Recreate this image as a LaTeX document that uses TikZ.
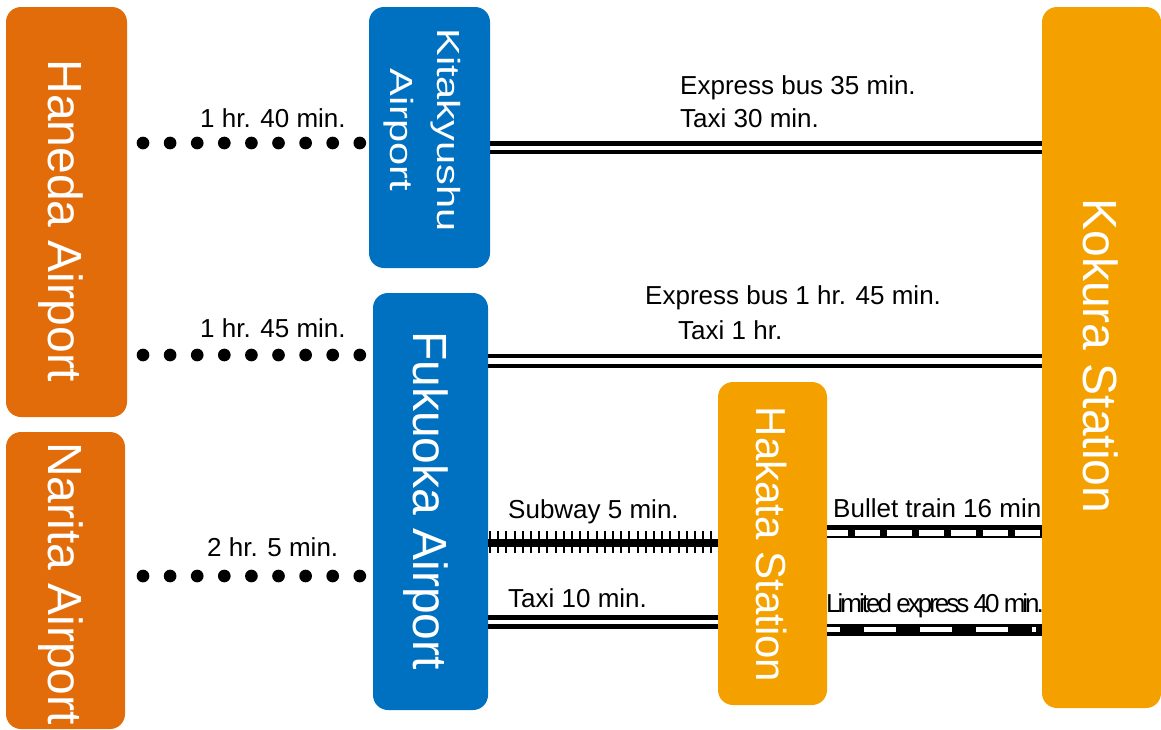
\documentclass[tikz,border=0pt]{standalone}
\usepackage{fontspec}
\usepackage{graphicx}
\setmainfont{Liberation Sans}
\definecolor{airorange}{HTML}{E36C0A}
\definecolor{airblue}{HTML}{0070C0}
\definecolor{stayellow}{HTML}{F4A100}
\begin{document}
\begin{tikzpicture}[x=1pt,y=-1pt,
  box/.style={draw=none, rounded corners=15pt, inner sep=0pt, outer sep=0pt},
  boxtext/.style={text=white, font=\fontsize{48pt}{52pt}\selectfont, rotate=-90, inner sep=0pt},
  lbl/.style={font=\fontsize{26pt}{30pt}\selectfont, inner sep=0pt, anchor=base west},
  dotline/.style={line width=12.7pt, line cap=round, dash pattern=on 0pt off 27.1pt},
  rail/.style={line width=4.5pt},
]
\useasboundingbox (0,0) rectangle (1161,729);

% boxes
\node[box, fill=airorange, minimum width=121pt, minimum height=410pt] (han) at (66.5,212) {};
\node[box, fill=airorange, minimum width=119pt, minimum height=297pt] (nar) at (65.5,580.5) {};
\node[box, fill=airblue, minimum width=121pt, minimum height=261pt] (kita) at (429.5,137.5) {};
\node[box, fill=airblue, minimum width=115pt, minimum height=417pt] (fuku) at (430.5,501.5) {};
\node[box, fill=stayellow, minimum width=109pt, minimum height=323pt] (hak) at (772.5,543.5) {};
\node[box, fill=stayellow, minimum width=119pt, minimum height=701pt] (kok) at (1101.5,357.5) {};

% box texts
\node[boxtext] (hantx) at (61,221) {Haneda Airport};
\node[boxtext] (nartx) at (61,583.5) {Narita Airport};
\node[boxtext, align=center, font=\fontsize{32pt}{47pt}\selectfont] (kitatx) at (422,130) {\scalebox{1.3}[1]{Kitakyushu}\\\scalebox{1.3}[1]{Airport}};
\node[boxtext] (fukutx) at (426,500.5) {Fukuoka Airport};
\node[boxtext, font=\fontsize{42pt}{46pt}\selectfont] (haktx) at (771,544.5) {Hakata Station};
\node[boxtext] (koktx) at (1101,356) {Kokura Station};

% dotted flight connectors
\draw[dotline, shorten <=16pt, shorten >=9pt] (han.east |- 0,143) -- (kita.west |- 0,143);
\draw[dotline, shorten <=16pt, shorten >=13pt] (han.east |- 0,355) -- (fuku.west |- 0,355);
\draw[dotline, shorten <=18pt, shorten >=13pt] (nar.east |- 0,576) -- (fuku.west |- 0,576);

% double lines (bus / taxi)
\draw[rail] (kita.east |- 0,143.5) -- (kok.west |- 0,143.5);
\draw[rail] (kita.east |- 0,152) -- (kok.west |- 0,152);
\draw[rail] (fuku.east |- 0,356) -- (kok.west |- 0,356);
\draw[rail] (fuku.east |- 0,366) -- (kok.west |- 0,366);
\draw[rail] (fuku.east |- 0,617.5) -- (hak.west |- 0,617.5);
\draw[rail] (fuku.east |- 0,626.5) -- (hak.west |- 0,626.5);

% subway
\draw[line width=8pt] (fuku.east |- 0,542.5) -- (hak.west |- 0,542.5);
\draw[line width=22pt, dash pattern=on 2pt off 6.2pt, shorten <=1pt, shorten >=5pt] (fuku.east |- 0,542) -- (hak.west |- 0,542);

% bullet train
\draw[line width=13pt] (hak.east |- 0,531.5) -- (kok.west |- 0,531.5);
\draw[white, line width=6pt, dash pattern=on 25pt off 7pt, dash phase=4pt, shorten >=2pt] (hak.east |- 0,532.5) -- (kok.west |- 0,532.5);

% limited express
\draw[line width=12pt] (hak.east |- 0,630) -- (kok.west |- 0,630);
\draw[white, line width=5pt, dash pattern=on 32pt off 24pt, dash phase=19pt, shorten >=6pt] (hak.east |- 0,629.5) -- (kok.west |- 0,629.5);

% labels
\node[lbl] (t1) at (200,127) {1 hr. 40 min.};
\node[lbl] (t2) at (200,337) {1 hr. 45 min.};
\node[lbl] (t3) at (207,556) {2 hr. 5 min.};
\node[lbl] (t4) at (680,94) {Express bus 35 min.};
\node[lbl] (t5) at (680,127) {Taxi 30 min.};
\node[lbl] (t6) at (645,304) {Express bus 1 hr. 45 min.};
\node[lbl] (t7) at (678,339) {Taxi 1 hr.};
\node[lbl] (t8) at (508,518) {Subway 5 min.};
\node[lbl] (t9) at (508,607) {Taxi 10 min.};
\node[lbl] (t10) at (833,517) {Bullet train 16 min};
\node[lbl] (t11) at (826,612) {\addfontfeature{LetterSpace=-11.5}Limited express 40 min.};
\end{tikzpicture}
\end{document}
